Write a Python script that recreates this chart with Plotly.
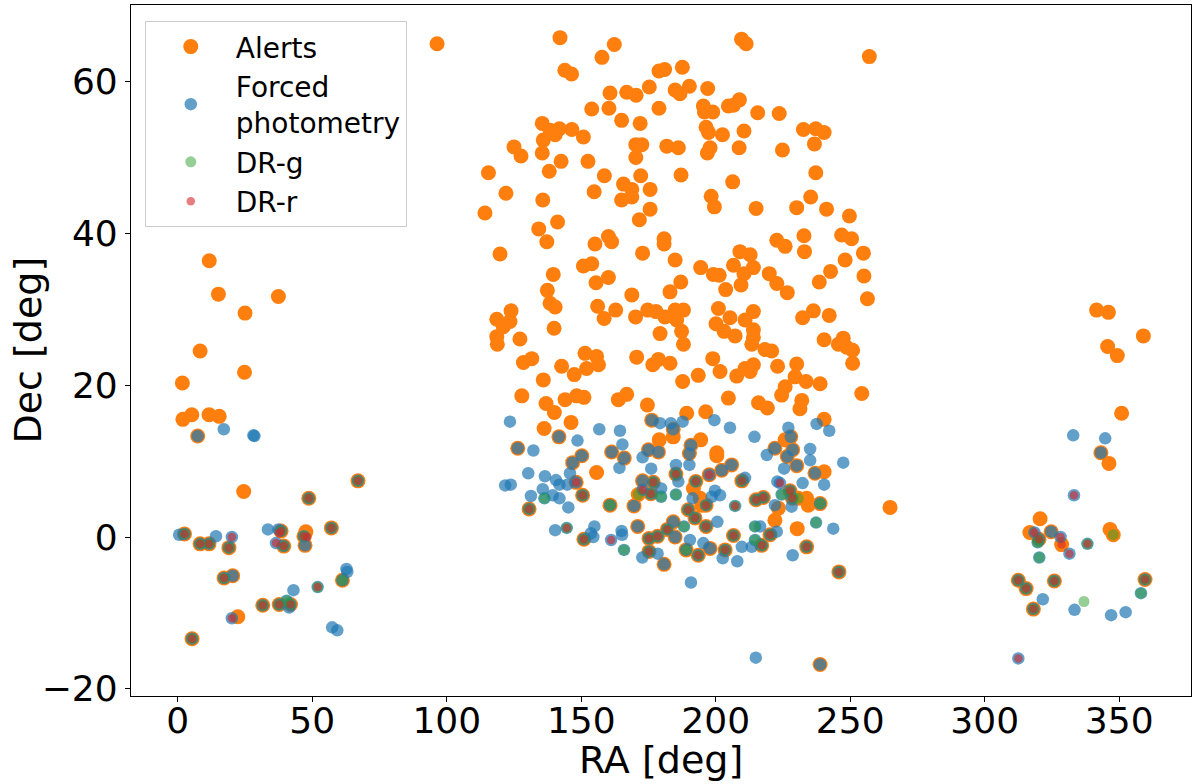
import plotly.graph_objects as go

# (RA, Dec) pairs, per data set
alerts_left = [(11.7,36.4),(15.1,32.0),(37.4,31.7),(25.0,29.5),(8.3,24.5),(24.8,21.7),(1.7,20.3),(1.9,15.5),
    (5.2,16.1),(11.6,16.1),(15.4,15.9),(7.4,13.3),(24.5,6.0),(67.0,7.4),(48.7,5.1),(57.1,1.2),(47.6,0.7),
    (46.9,0.1),(47.3,-1.1),(2.5,0.4),(8.3,-0.9),(11.6,-0.9),(19.0,-1.4),(38.4,0.8),(39.4,-1.2),(17.2,-5.4),
    (20.4,-5.1),(61.2,-5.7),(31.6,-9.0),(37.7,-8.9),(41.9,-8.9),(22.3,-10.5),(5.3,-13.4),(96.4,65.0)]
alerts_north_a = [(142.1,65.8),(162.3,64.9),(157.7,63.2),(143.9,61.5),(146.4,61.0),(178.9,61.4),(181.0,61.6),
    (175.3,59.3),(160.7,58.5),(166.9,58.6),(170.4,58.2),(153.9,56.4),(160.3,56.5),(178.9,56.5),(165.0,54.9),
    (171.9,54.5),(135.5,54.5),(138.4,53.6),(141.9,53.8),(146.5,53.7),(140.3,53.0),(150.8,52.7),(135.9,52.3),
    (135.5,50.6),(125.0,51.4),(127.6,50.2),(170.3,51.7),(172.5,51.7),(170.3,50.0),(181.8,51.5),(142.5,49.5),
    (138.1,48.2),(152.5,49.5),(115.5,48.0),(158.6,47.6),(172.1,47.6),(122.0,45.3),(135.7,44.4),(154.8,45.5),
    (165.7,46.5),(168.8,45.8),(165.0,44.4),(168.8,44.8),(175.6,45.8),(114.2,42.7),(141.2,41.5),(134.2,40.6),
    (137.2,38.9),(175.6,43.2),(171.6,41.8),(160.1,39.6),(161.3,38.9),(155.1,38.6),(180.8,39.3),(180.8,38.6)]
alerts_north_b = [(209.6,65.6),(211.3,65.0),(257.1,63.3),(187.6,61.9),(190.2,59.4),(184.9,58.9),(186.7,58.4),
    (197.0,59.1),(195.4,56.8),(198.9,56.0),(195.8,56.0),(204.7,56.8),(208.8,57.6),(206.6,56.9),(215.6,55.9),
    (223.6,55.8),(196.4,54.0),(197.3,53.3),(202.5,53.0),(210.5,53.5),(232.6,53.7),(237.2,53.8),(240.3,53.3),
    (236.7,51.8),(186.1,51.3),(196.9,50.6),(197.9,51.3),(208.7,51.3),(224.8,51.0),(187.1,47.7),(206.3,46.8),
    (237.2,48.0),(198.3,44.9),(199.5,43.5),(215.0,43.3),(230.1,43.4),(235.3,44.8),(241.2,43.2),(249.7,42.3),
    (222.7,39.1),(225.8,38.3),(232.8,39.7),(246.8,39.8),(250.5,39.3)]
alerts_north_c = [(209.0,37.6),(212.8,37.2),(233.0,37.6),(254.9,37.4),(184.9,36.5),(194.4,35.5),(206.6,35.8),
    (214.0,35.5),(210.5,34.7),(199.1,34.6),(201.3,34.5),(248.1,36.5),(242.7,35.0),(219.9,34.7),(222.7,33.4),
    (226.6,32.2),(238.5,33.6),(255.1,34.4),(256.4,31.4),(187.0,33.6),(203.7,32.6),(209.4,33.2),(184.9,29.9),
    (188.0,29.9),(185.5,28.6),(187.3,27.1),(188.0,25.4),(201.0,30.1),(205.3,28.9),(200.1,28.1),(203.1,27.1),
    (207.2,26.5),(210.9,28.6),(214.0,29.7),(214.0,27.3),(214.0,26.3),(213.4,25.4),(218.3,24.7),(220.8,24.5),
    (232.3,28.9),(236.3,29.8),(242.2,29.2),(240.3,26.0),(245.6,25.4),(247.4,26.2),(248.7,25.0),(250.9,24.6),
    (250.9,22.9),(198.9,23.5),(201.6,21.8),(193.5,21.3),(187.7,20.5),(207.8,21.2),(210.9,22.2),(214.0,22.7),
    (212.8,21.8),(223.0,22.5),(230.1,22.8),(229.5,21.1),(233.6,20.5),(238.8,20.2),(225.8,19.8),(224.5,18.7),
    (204.7,18.3),(215.9,17.7),(219.2,17.0),(232.0,18.0),(231.3,16.9),(254.3,18.9),(189.2,16.3),(196.3,16.5),
    (240.3,15.5),(194.4,12.8),(200.4,11.1),(225.8,12.8)]
alerts_north_d = [(119.8,37.3),(172.8,37.4),(150.8,35.7),(153.9,36.0),(139.6,34.6),(155.5,33.5),(160.1,34.2),
    (137.4,32.5),(138.4,30.8),(140.3,30.3),(168.8,31.9),(183.0,32.3),(123.9,29.8),(118.6,28.7),(123.5,28.4),
    (121.0,27.7),(118.6,26.4),(118.8,25.4),(127.2,26.1),(139.9,27.5),(156.1,30.4),(158.5,28.8),(162.8,29.9),
    (170.2,29.0),(174.7,29.9),(177.8,29.7),(181.1,29.0),(179.3,26.8),(151.4,24.2),(155.7,23.8),(156.4,22.7),
    (152.0,22.2),(170.6,23.7),(176.6,22.7),(178.7,23.4),(183.0,22.9),(128.5,23.0),(131.6,23.5),(142.7,22.5),
    (147.4,21.4),(135.9,20.7),(127.9,18.6),(136.9,17.6),(140.0,16.4),(144.0,18.1),(148.3,18.6),(151.0,18.4),
    (163.8,18.1),(166.9,18.8),(174.6,17.4),(136.2,14.3),(146.2,15.1),(179.0,12.8),(184.2,13.2)]
alerts_south = [(141.7,13.2),(126.4,11.7),(150.2,10.7),(146.8,9.8),(161.3,11.2),(166.0,10.4),(175.0,11.5),
    (178.7,11.2),(176.2,15.4),(184.2,14.2),(227.9,13.2),(222.0,11.7),(228.6,11.5),(226.6,10.6),(190.8,12.1),
    (190.2,11.0),(155.7,8.5),(172.8,7.4),(169.6,4.1),(171.0,1.4),(184.2,2.0),(184.9,0.0),(180.8,-3.6),
    (160.7,4.2),(148.1,7.2),(150.5,5.5),(130.6,3.7),(176.8,7.2),(175.9,5.7),(185.2,8.3),(151.0,-0.3),
    (175.2,-0.2),(178.4,0.1),(182.0,1.0),(175.2,-1.9),(171.2,5.6),(200.4,10.7),(191.7,6.4),(194.2,5.1),
    (194.8,4.2),(222.0,2.2),(223.3,3.8),(230.3,1.1),(233.8,5.1),(234.4,4.2),(240.3,8.6),(264.8,3.9),
    (197.9,-1.5),(238.8,-16.8),(236.9,8.4),(192.6,7.3),(197.6,8.2),(202.2,8.8),(205.9,9.5),(209.7,7.4),
    (196.4,4.2),(189.8,3.6),(192.3,2.5),(196.4,1.4),(189.0,-1.7),(193.5,-2.4),(203.5,-1.7),(206.6,0.2),
    (215.0,4.9),(217.7,5.2),(220.2,0.3),(217.1,-1.1),(227.6,6.1),(228.5,5.1),(238.8,4.4),(233.8,-1.3),
    (245.8,-4.6),(230.1,9.4),(230.7,5.1)]
alerts_right = [(341.6,29.9),(346.0,29.6),(359.0,26.5),(345.7,25.1),(349.3,23.9),(350.9,16.3),(346.2,9.7),
    (320.6,2.4),(316.8,0.6),(346.6,1.0),(343.2,11.1),(324.7,0.7),(328.6,-1.0),(347.8,0.3),(320.2,-0.3),
    (312.5,-5.7),(315.4,-6.8),(325.9,-5.8),(359.6,-5.6),(318.1,-9.5)]

fp_left = [(7.4,13.3),(17.1,14.2),(28.1,13.4),(28.5,13.3),(0.5,0.3),(2.5,0.4),(8.3,-0.9),(11.6,-0.9),
    (14.2,0.1),(20.1,0.0),(19.0,-1.4),(33.5,1.0),(37.4,1.0),(38.4,0.8),(36.5,-0.8),(39.4,-1.2),(46.9,0.1),
    (47.3,-1.1),(48.7,5.1),(57.1,1.2),(67.0,7.4),(17.2,-5.4),(20.4,-5.1),(62.7,-4.2),(63.0,-4.6),(61.2,-5.7),
    (52.0,-6.6),(43.0,-7.0),(31.6,-9.0),(37.7,-8.9),(40.5,-8.4),(41.9,-8.9),(41.4,-9.3),(20.1,-10.7),
    (57.4,-11.9),(59.3,-12.3),(5.3,-13.4)]
fp_mid_a = [(141.7,13.2),(126.4,11.7),(150.2,10.7),(146.8,9.8),(161.3,11.2),(166.0,10.4),(175.0,11.5),
    (178.7,11.2),(176.2,15.4),(184.2,14.2),(123.5,15.2),(156.7,14.2),(164.4,14.0),(148.6,12.7),(165.3,12.2),
    (132.2,11.4),(172.8,10.5),(179.3,15.0),(183.3,15.0),(227.9,13.2),(222.0,11.7),(228.6,11.5),(226.6,10.6),
    (190.8,12.1),(190.2,11.0),(199.5,15.4),(205.3,14.4),(214.4,13.2),(227.0,14.4),(237.5,14.9),(242.2,14.0),
    (187.7,15.2),(235.1,11.6)]
fp_mid_b = [(172.8,7.4),(169.6,4.1),(171.0,1.4),(184.2,2.0),(184.9,0.0),(180.8,-3.6),(160.7,4.2),(148.1,7.2),
    (150.5,5.5),(130.6,3.7),(176.8,7.2),(175.9,5.7),(185.2,8.3),(151.0,-0.3),(175.2,-0.2),(178.4,0.1),
    (182.0,1.0),(175.2,-1.9),(144.6,1.2),(130.3,8.4),(136.5,8.0),(140.6,7.5),(145.8,8.4),(121.7,6.8),
    (123.8,6.9),(135.7,6.3),(141.9,6.9),(144.8,6.9),(131.3,5.4),(139.4,5.5),(141.9,5.1),(145.2,3.9),
    (164.2,9.1),(176.0,9.0),(179.7,6.4),(185.2,9.5),(140.3,0.9),(153.6,0.5),(154.9,1.4),(154.5,0.0),
    (165.0,0.8),(165.2,0.3),(178.4,-2.2),(172.7,-2.7),(136.3,5.1),(165.9,-1.7),(179.7,5.3),(185.2,5.6),
    (172.8,6.2),(161.1,-0.4)]
fp_mid_c = [(197.9,-1.5),(238.8,-16.8),(236.9,8.4),(192.6,7.3),(197.6,8.2),(202.2,8.8),(205.9,9.5),
    (209.7,7.4),(196.4,4.2),(189.8,3.6),(192.3,2.5),(196.4,1.4),(189.0,-1.7),(193.5,-2.4),(203.5,-1.7),
    (206.6,0.2),(215.0,4.9),(217.7,5.2),(220.2,0.3),(217.1,-1.1),(227.6,6.1),(228.5,5.1),(238.8,4.4),
    (233.8,-1.3),(245.8,-4.6),(230.1,9.4),(207.2,4.1),(223.9,7.1),(237.3,1.9),(188.2,1.4),(214.6,1.4),
    (214.6,-0.4),(224.5,5.6),(186.1,7.3),(210.9,7.8),(199.7,6.1),(201.6,5.5),(198.5,5.3),(191.4,5.1),
    (200.6,2.0),(190.4,-0.4),(195.4,-0.8),(202.6,-2.8),(208.0,-3.2),(209.7,-1.3),(216.5,1.4),(222.7,0.7),
    (213.4,-1.3),(222.0,4.2),(222.9,7.3),(228.2,4.0),(243.7,1.1),(228.6,-2.4),(190.8,-6.0),(214.9,-15.9),
    (225.4,9.0),(240.3,6.9),(232.3,7.1),(190.2,9.5),(235.1,10.1),(247.4,9.8),(219.0,10.8)]
fp_right = [(343.2,11.1),(324.7,0.7),(320.2,-0.3),(338.2,-0.9),(312.5,-5.7),(315.4,-6.8),(325.9,-5.8),
    (359.6,-5.6),(318.1,-9.5),(332.9,13.4),(344.8,13.0),(321.6,-8.2),(333.4,-9.6),(347.0,-10.3),(352.4,-9.9),
    (333.2,5.5),(318.5,0.6),(328.2,0.0),(331.5,-2.2),(312.5,-16.0),(319.7,-0.7),(320.3,-2.7),(358.1,-7.4)]

drg_pts = [(67.0,7.4),(48.7,5.1),(57.1,1.2),(2.5,0.4),(8.3,-0.9),(11.6,-0.9),(19.0,-1.4),(38.4,0.8),
    (39.4,-1.2),(46.9,0.1),(17.2,-5.4),(61.2,-5.7),(52.0,-6.6),(31.6,-9.0),(37.7,-8.9),(40.5,-8.4),
    (41.9,-8.9),(5.3,-13.4),(150.5,5.5),(130.6,3.7),(176.8,7.2),(175.9,5.7),(185.2,8.3),(151.0,-0.3),
    (175.2,-0.2),(178.4,0.1),(182.0,1.0),(175.2,-1.9),(144.6,1.2),(160.7,4.2),(171.2,5.6),(136.3,5.1),
    (165.9,-1.7),(179.7,5.3),(185.2,5.6),(192.6,7.3),(209.7,7.4),(196.4,4.2),(189.8,3.6),(192.3,2.5),
    (196.4,1.4),(189.0,-1.7),(193.5,-2.4),(203.5,-1.7),(206.6,0.2),(215.0,4.9),(217.7,5.2),(220.2,0.3),
    (217.1,-1.1),(227.6,6.1),(228.5,5.1),(238.8,4.4),(233.8,-1.3),(245.8,-4.6),(207.2,4.1),(237.3,1.9),
    (188.2,1.4),(214.6,1.4),(214.6,-0.4),(224.5,5.6),(230.7,5.1),(347.8,0.3),(320.2,-0.3),(338.2,-0.9),
    (312.5,-5.7),(315.4,-6.8),(325.9,-5.8),(359.6,-5.6),(318.1,-9.5),(319.7,-0.7),(320.3,-2.7),(358.1,-7.4),
    (336.9,-8.5)]
drr_pts = [(67.0,7.4),(48.7,5.1),(57.1,1.2),(2.5,0.4),(8.3,-0.9),(11.6,-0.9),(20.1,0.0),(19.0,-1.4),
    (38.4,0.8),(37.7,0.5),(36.5,-0.8),(39.4,-1.2),(46.9,0.1),(48.2,0.0),(17.2,-5.4),(52.0,-6.6),(31.6,-9.0),
    (37.7,-8.9),(41.9,-8.9),(20.1,-10.7),(5.3,-13.4),(148.1,7.2),(150.5,5.5),(130.6,3.7),(176.8,7.2),
    (175.9,5.7),(185.2,8.3),(151.0,-0.3),(175.2,-0.2),(178.4,0.1),(182.0,1.0),(175.2,-1.9),(144.6,1.2),
    (172.8,6.2),(161.1,-0.4),(192.6,7.3),(197.6,8.2),(209.7,7.4),(196.4,4.2),(189.8,3.6),(192.3,2.5),
    (196.4,1.4),(193.5,-2.4),(203.5,-1.7),(206.6,0.2),(215.0,4.9),(217.7,5.2),(220.2,0.3),(217.1,-1.1),
    (227.6,6.1),(228.5,5.1),(233.8,-1.3),(245.8,-4.6),(207.2,4.1),(223.9,7.1),(320.2,-0.3),(338.2,-0.9),
    (312.5,-5.7),(315.4,-6.8),(325.9,-5.8),(359.6,-5.6),(318.1,-9.5),(333.2,5.5),(318.5,0.6),(328.2,0.0),
    (331.5,-2.2),(312.5,-16.0),(328.6,-1.0)]

alerts = alerts_left+alerts_north_a+alerts_north_b+alerts_north_c+alerts_north_d+alerts_south+alerts_right
forced = fp_left+fp_mid_a+fp_mid_b+fp_mid_c+fp_right

font = "DejaVu Sans"
fig = go.Figure()
for name, pts, col, op, sz in [("Alerts", alerts, "#ff7f0e", 1.0, 15),
                               ("Forced<br>photometry", forced, "#1f77b4", 0.7, 12.5),
                               ("DR-g", drg_pts, "#2ca02c", 0.5, 11),
                               ("DR-r", drr_pts, "#d62728", 0.6, 8.5)]:
    fig.add_trace(go.Scatter(x=[p[0] for p in pts], y=[p[1] for p in pts], mode="markers", name=name,
                             legendgroup=name,
                             marker=dict(color=col, opacity=op, size=sz, line=dict(width=0))))

ax = dict(showline=True, linecolor="black", linewidth=1.2, mirror=True, showgrid=False, zeroline=False,
          ticks="outside", ticklen=5, tickwidth=1.2, tickcolor="black", automargin=False,
          tickfont=dict(family=font, size=36, color="black"))
fig.update_layout(width=1200, height=784, margin=dict(l=131, r=9, t=5, b=88),
                  plot_bgcolor="white", paper_bgcolor="white", font=dict(family=font, color="black"),
                  xaxis=dict(ax, range=[-17.4, 376.7], dtick=50, tick0=0, ticklabelstandoff=-12),
                  yaxis=dict(ax, range=[-20.95, 70.1], dtick=20, tick0=0),
                  legend=dict(x=0.013, y=0.977, xanchor="left", yanchor="top", bgcolor="white",
                              bordercolor="#cccccc", borderwidth=1, font=dict(size=28),
                              itemsizing="trace", itemwidth=80, tracegroupgap=0))
fig.add_annotation(text="RA [deg]", xref="paper", yref="paper", x=0.5, y=-0.092, showarrow=False,
                   xanchor="center", yanchor="middle", font=dict(size=38))
fig.add_annotation(text="Dec [deg]", xref="paper", yref="paper", x=-0.098, y=0.5, showarrow=False,
                   textangle=-90, xanchor="center", yanchor="middle", font=dict(size=38))
# page has a default 8px body margin; drop it so the figure sits at the window corner
fig.write_html("out.html", config={"displayModeBar": False},
               post_script="document.body.style.margin='0px';")
